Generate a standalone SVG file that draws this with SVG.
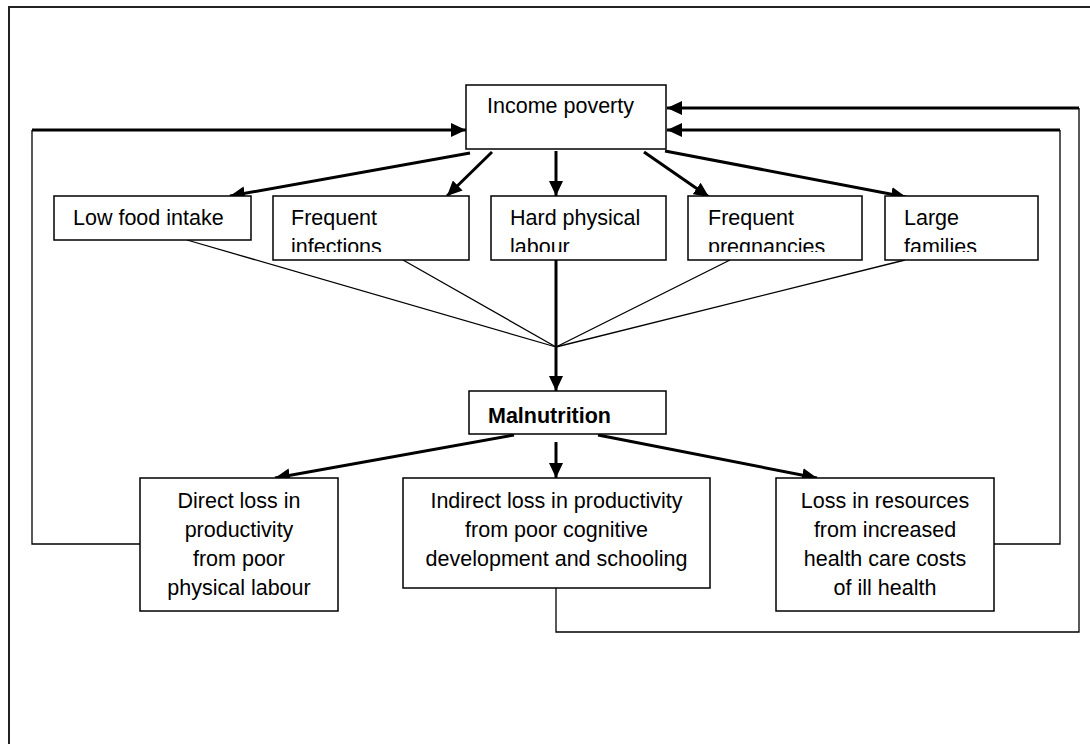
<svg xmlns="http://www.w3.org/2000/svg" width="1090" height="744" viewBox="0 0 1090 744">
  <style>
    .box { fill: #ffffff; stroke: #000000; stroke-width: 1.5; }
    .t { font-family: "Liberation Sans", Arial, sans-serif; font-size: 21.5px; fill: #000000; }
    .c { text-anchor: middle; }
    .b { font-weight: bold; }
    .thick { fill: none; stroke: #000000; stroke-width: 3; }
    .thin { fill: none; stroke: #000000; stroke-width: 1.3; }
  </style>
  <defs>
    <marker id="ah" markerUnits="userSpaceOnUse" markerWidth="16" markerHeight="14" refX="15" refY="7" orient="auto">
      <path d="M0,0 L15,7 L0,14 z" fill="#000000"/>
    </marker>
    <clipPath id="row1clip">
      <rect x="0" y="196" width="1090" height="56"/>
    </clipPath>
  </defs>
  <rect x="0" y="0" width="1090" height="744" fill="#ffffff"/>
  <rect id="frame" x="9" y="7" width="1100" height="800" fill="none" stroke="#222222" stroke-width="2"/>

  <g id="connectors">
    <!-- feedback loops -->
    <path class="thin" d="M140,544 L32,544 L32,130"/>
    <path class="thick" d="M32,130 L466,130" marker-end="url(#ah)"/>
    <path class="thin" d="M994,544 L1060,544 L1060,130"/>
    <path class="thick" d="M1060,130 L667,130" marker-end="url(#ah)"/>
    <path class="thin" d="M556,588 L556,632 L1079,632 L1079,108"/>
    <path class="thick" d="M1079,108 L667,108" marker-end="url(#ah)"/>
    <!-- income poverty to factors -->
    <line class="thick" x1="470" y1="153" x2="230" y2="196" marker-end="url(#ah)"/>
    <line class="thick" x1="492" y1="152" x2="447" y2="196" marker-end="url(#ah)"/>
    <line class="thick" x1="556" y1="151" x2="556" y2="196" marker-end="url(#ah)"/>
    <line class="thick" x1="644" y1="152" x2="709" y2="197" marker-end="url(#ah)"/>
    <line class="thick" x1="665" y1="151" x2="906" y2="197" marker-end="url(#ah)"/>
    <!-- converging lines -->
    <line class="thin" x1="187" y1="240" x2="556" y2="347"/>
    <line class="thin" x1="403" y1="260" x2="556" y2="347"/>
    <line class="thin" x1="730" y1="260" x2="556" y2="347"/>
    <line class="thin" x1="905" y1="260" x2="556" y2="347"/>
    <line class="thick" x1="556" y1="260" x2="556" y2="391" marker-end="url(#ah)"/>
    <!-- malnutrition to consequences -->
    <line class="thick" x1="514" y1="435" x2="275" y2="478" marker-end="url(#ah)"/>
    <line class="thick" x1="556" y1="442" x2="556" y2="478" marker-end="url(#ah)"/>
    <line class="thick" x1="598" y1="435" x2="817" y2="478" marker-end="url(#ah)"/>
  </g>

  <g id="income-poverty">
    <rect class="box" x="466" y="85" width="200" height="64"/>
    <text class="t" x="487" y="113">Income poverty</text>
  </g>

  <g id="low-food-intake">
    <rect class="box" x="54" y="196" width="197" height="44"/>
    <text class="t" x="73" y="225">Low food intake</text>
  </g>

  <g id="frequent-infections">
    <rect class="box" x="273" y="196" width="196" height="64"/>
    <g clip-path="url(#row1clip)">
      <text class="t" x="291" y="225">Frequent</text>
      <text class="t" x="291" y="254">infections</text>
    </g>
  </g>

  <g id="hard-physical-labour">
    <rect class="box" x="491" y="196" width="175" height="64"/>
    <g clip-path="url(#row1clip)">
      <text class="t" x="510" y="225">Hard physical</text>
      <text class="t" x="510" y="254">labour</text>
    </g>
  </g>

  <g id="frequent-pregnancies">
    <rect class="box" x="688" y="196" width="174" height="64"/>
    <g clip-path="url(#row1clip)">
      <text class="t" x="708" y="225">Frequent</text>
      <text class="t" x="708" y="254">pregnancies</text>
    </g>
  </g>

  <g id="large-families">
    <rect class="box" x="885" y="196" width="153" height="64"/>
    <g clip-path="url(#row1clip)">
      <text class="t" x="904" y="225">Large</text>
      <text class="t" x="904" y="254">families</text>
    </g>
  </g>

  <g id="malnutrition">
    <rect class="box" x="469" y="391" width="197" height="43"/>
    <text class="t b" x="488" y="423">Malnutrition</text>
  </g>

  <g id="direct-loss">
    <rect class="box" x="140" y="478" width="198" height="133"/>
    <text class="t c" x="239" y="508">Direct loss in</text>
    <text class="t c" x="239" y="537">productivity</text>
    <text class="t c" x="239" y="566">from poor</text>
    <text class="t c" x="239" y="595">physical labour</text>
  </g>

  <g id="indirect-loss">
    <rect class="box" x="403" y="478" width="307" height="110"/>
    <text class="t c" x="556.5" y="508">Indirect loss in productivity</text>
    <text class="t c" x="556.5" y="537">from poor cognitive</text>
    <text class="t c" x="556.5" y="566">development and schooling</text>
  </g>

  <g id="loss-in-resources">
    <rect class="box" x="776" y="478" width="218" height="133"/>
    <text class="t c" x="885" y="508">Loss in resources</text>
    <text class="t c" x="885" y="537">from increased</text>
    <text class="t c" x="885" y="566">health care costs</text>
    <text class="t c" x="885" y="595">of ill health</text>
  </g>
</svg>
